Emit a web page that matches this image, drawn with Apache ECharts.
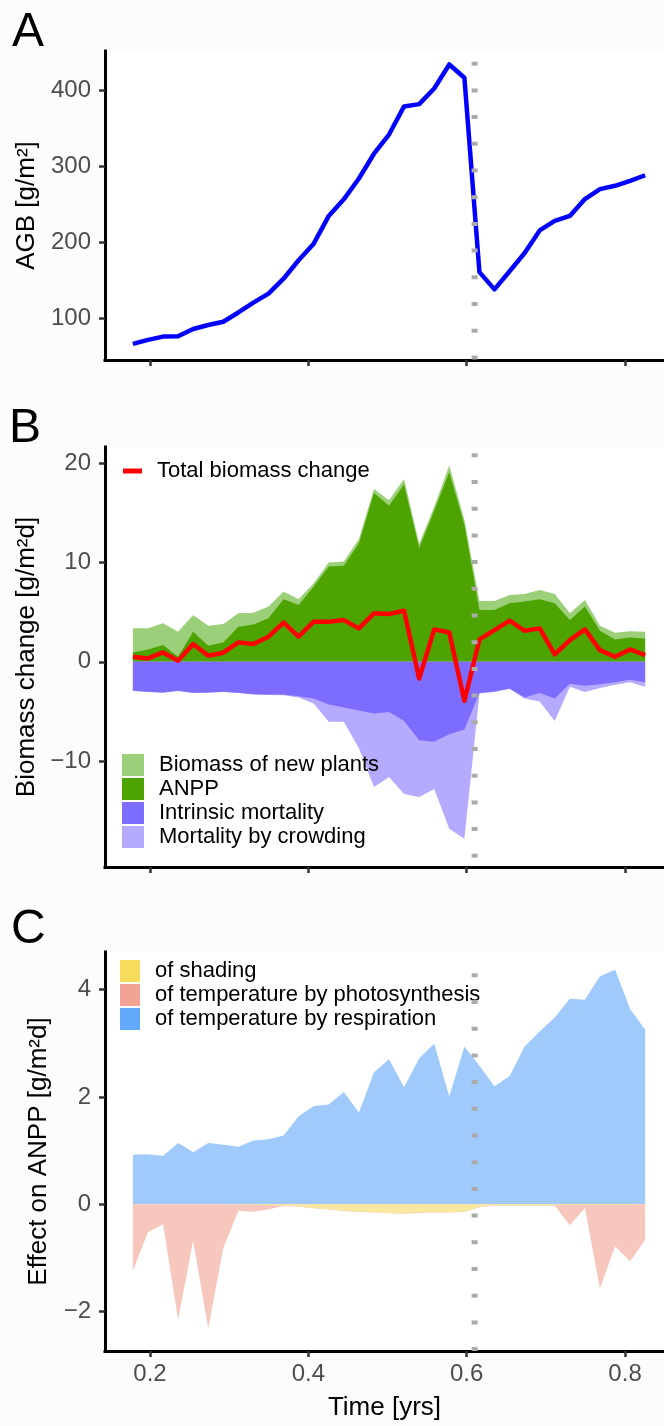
<!DOCTYPE html>
<html>
<head>
<meta charset="utf-8">
<script src="https://cdn.jsdelivr.net/npm/echarts@6/dist/echarts.min.js"></script>
<style>
  html, body { margin: 0; padding: 0; background: #fcfcfc; }
  #chart { width: 664px; height: 1426px; }
</style>
</head>
<body>
<div id="chart"></div>
<script>
// Weekly sampling times [yrs]
const times = [0.1784, 0.1974, 0.2165, 0.2355, 0.2545, 0.2736, 0.2926, 0.3116, 0.3306, 0.3497,
  0.3687, 0.3877, 0.4068, 0.4258, 0.4448, 0.4639, 0.4829, 0.5019, 0.5209, 0.5400,
  0.5590, 0.5780, 0.5971, 0.6161, 0.6351, 0.6542, 0.6732, 0.6922, 0.7112, 0.7303,
  0.7493, 0.7683, 0.7874, 0.8064, 0.8254];

// Event marker (dotted vertical line)
const eventTime = 0.61;

// Panel A: above-ground biomass [g/m²]
const agb = [66.4, 71.6, 76.0, 76.4, 86.0, 91.2, 95.5, 107.7, 120.7, 132.5,
  152.1, 176.4, 198.2, 234.7, 256.5, 283.9, 316.5, 341.7, 378.7, 381.7,
  402.2, 433.9, 416.5, 160.8, 138.1, 162.0, 186.0, 215.6, 228.2, 234.7,
  256.9, 270.0, 274.3, 280.8, 288.2];

// Panel B: components of biomass change [g/m²d]
const anpp = [0.94, 1.24, 1.68, 0.50, 3.03, 1.61, 1.95, 3.53, 3.76, 4.37,
  6.29, 5.71, 7.56, 9.58, 9.65, 11.93, 16.97, 15.70, 17.82, 11.43,
  15.20, 19.06, 13.78, 5.21, 5.21, 5.88, 6.05, 6.29, 5.88, 4.20,
  5.55, 3.13, 2.25, 2.45, 2.35];
const newPlants = [2.42, 2.12, 2.19, 2.53, 1.68, 2.02, 1.85, 1.34, 1.18, 1.18,
  0.77, 0.58, 0.34, 0.40, 0.43, 0.41, 0.41, 0.54, 0.57, 0.45,
  0.40, 0.67, 0.50, 0.91, 0.91, 0.84, 0.77, 0.94, 0.94, 0.67,
  0.67, 0.50, 0.67, 0.61, 0.68];
const intrinsicMort = [-2.92, -3.02, -3.09, -2.92, -3.12, -3.09, -3.02, -3.12, -3.26, -3.29,
  -3.29, -3.46, -3.69, -4.30, -4.60, -4.90, -5.20, -5.05, -5.95, -7.90,
  -8.05, -7.30, -6.80, -3.15, -3.00, -2.70, -3.60, -3.15, -3.70, -2.20,
  -2.40, -2.25, -2.05, -1.82, -2.05];
const crowdingMort = [-0.03, -0.03, -0.03, -0.03, -0.03, -0.03, -0.03, -0.03, -0.04, -0.06,
  -0.07, -0.14, -0.51, -1.74, -1.44, -3.80, -7.40, -6.55, -7.35, -5.70,
  -4.75, -9.50, -11.00, -0.05, -0.05, -0.05, -0.10, -0.85, -2.25, -0.30,
  -0.65, -0.40, -0.25, -0.23, -0.45];
const totalChange = [0.50, 0.34, 0.94, 0.10, 1.78, 0.60, 0.91, 1.95, 1.78, 2.52,
  3.93, 2.52, 4.03, 4.03, 4.19, 3.36, 4.87, 4.80, 5.13, -1.68,
  3.26, 2.95, -3.93, 2.25, 3.19, 4.13, 3.12, 3.36, 0.74, 2.18,
  3.26, 1.17, 0.50, 1.24, 0.67];

// Panel C: effects on ANPP [g/m²d]
const shadingEffect = [-0.005, -0.005, -0.005, -0.005, -0.005, -0.005, -0.005, -0.01, -0.01, -0.02,
  -0.025, -0.04, -0.07, -0.09, -0.12, -0.14, -0.15, -0.16, -0.17, -0.155,
  -0.15, -0.15, -0.14, -0.05, -0.02, -0.02, -0.02, -0.02, -0.015, -0.015,
  -0.015, -0.015, -0.015, -0.015, -0.015];
const photoEffect = [-1.235, -0.515, -0.365, -2.145, -0.675, -2.305, -0.815, -0.11, -0.13, -0.07,
  -0.005, -0.005, -0.005, -0.005, -0.005, -0.005, -0.005, -0.005, -0.005, -0.005,
  -0.005, -0.005, -0.005, -0.005, -0.005, -0.005, -0.005, -0.005, -0.01, -0.375,
  -0.055, -1.555, -0.765, -1.045, -0.645];
const respEffect = [0.925, 0.93, 0.90, 1.14, 0.97, 1.14, 1.11, 1.07, 1.19, 1.21,
  1.28, 1.64, 1.83, 1.86, 2.09, 1.71, 2.46, 2.70, 2.18, 2.72,
  2.99, 2.01, 2.94, 2.58, 2.20, 2.39, 2.94, 3.22, 3.48, 3.83,
  3.81, 4.25, 4.37, 3.64, 3.25];

// Tick labels
const xTicks = [0.2, 0.4, 0.6, 0.8];
const yTicksA = [100, 200, 300, 400];
const yTicksB = [-10, 0, 10, 20];
const yTicksC = [-2, 0, 2, 4];

// Axis ranges
const xRange = [0.1432, 0.8492];
const yRangeA = [45.2, 451.6];
const yRangeB = [-20.64, 21.6];
const yRangeC = [-2.733, 4.70];

const FONT = '"Liberation Sans", Arial, Helvetica, sans-serif';
const pairs = arr => times.map((t, i) => [t, arr[i]]);
// Layered totals: each band is drawn from zero to the running sum, the inner band painted over it
const cumulate = (a, b) => a.map((v, i) => v + b[i]);
const minusFmt = v => (v < 0 ? '\u2212' + Math.abs(v) : String(v));

const grids = [
  { left: 105, right: 0, top: 51, height: 309 },
  { left: 105, right: 0, top: 447, height: 420 },
  { left: 105, right: 0, top: 952, height: 399 }
].map(g => Object.assign({ show: true, backgroundColor: '#ffffff', borderWidth: 0, containLabel: false }, g));

function xAxis(i) {
  const withLabels = i === 2;
  return {
    type: 'value', gridIndex: i, min: xRange[0], max: xRange[1],
    name: withLabels ? 'Time [yrs]' : '',
    nameLocation: 'middle', nameGap: 44,
    nameTextStyle: { color: '#000', fontSize: 26, fontFamily: FONT },
    axisLine: { show: true, onZero: false, lineStyle: { color: '#000', width: 3, cap: 'square' } },
    axisTick: { show: true, length: 6, customValues: xTicks, lineStyle: { color: '#333', width: 2.5 } },
    axisLabel: { show: withLabels, customValues: xTicks, color: '#4d4d4d', fontSize: 24, fontFamily: FONT, margin: 11 },
    splitLine: { show: false }
  };
}

function yAxis(i, range, ticks, name, gap) {
  return {
    type: 'value', gridIndex: i, min: range[0], max: range[1],
    name: name, nameLocation: 'middle', nameGap: gap,
    nameTextStyle: { color: '#000', fontSize: 26, fontFamily: FONT },
    axisLine: { show: true, onZero: false, lineStyle: { color: '#000', width: 3, cap: 'square' } },
    axisTick: { show: true, length: 6, customValues: ticks, lineStyle: { color: '#333', width: 2.5 } },
    axisLabel: { show: true, customValues: ticks, color: '#4d4d4d', fontSize: 24, fontFamily: FONT, margin: 14, formatter: minusFmt },
    splitLine: { show: false }
  };
}

function areaSeries(name, arr, panel, fill) {
  return {
    name: name, type: 'line', xAxisIndex: panel, yAxisIndex: panel,
    data: pairs(arr), symbol: 'none', showSymbol: false, silent: true,
    lineStyle: { width: 0 }, itemStyle: { color: fill },
    areaStyle: { color: fill, opacity: 1, origin: 0 }
  };
}

function eventLine(panel, range, offset) {
  return {
    type: 'line', xAxisIndex: panel, yAxisIndex: panel, silent: true,
    data: [[eventTime, range[1]], [eventTime, range[0]]],
    symbol: 'none', showSymbol: false, z: 10,
    lineStyle: { color: '#aaaaaa', width: 6, type: [4, 22.7], dashOffset: offset, cap: 'butt' }
  };
}

const legendText = { color: '#000', fontSize: 22, fontFamily: FONT, lineHeight: 22, padding: [0, 0, 0, 10] };

const option = {
  animation: false,
  backgroundColor: '#fcfcfc',
  grid: grids,
  xAxis: [xAxis(0), xAxis(1), xAxis(2)],
  yAxis: [
    yAxis(0, yRangeA, yTicksA, 'AGB [g/m²]', 61),
    yAxis(1, yRangeB, yTicksB, 'Biomass change [g/m²d]', 61),
    yAxis(2, yRangeC, yTicksC, 'Effect on ANPP [g/m²d]', 53)
  ],
  legend: [
    {
      left: 123, top: 460, padding: 0, orient: 'vertical', selectedMode: false,
      icon: 'rect', itemWidth: 19, itemHeight: 5, textStyle: legendText,
      data: [{ name: 'Total biomass change', itemStyle: { color: '#ff0000', borderWidth: 0 } }]
    },
    {
      left: 122, top: 754, padding: 0, orient: 'vertical', selectedMode: false,
      icon: 'rect', itemWidth: 22, itemHeight: 22, itemGap: 2, textStyle: legendText,
      data: [
        { name: 'Biomass of new plants', itemStyle: { color: '#9ccf7a', borderWidth: 0 } },
        { name: 'ANPP', itemStyle: { color: '#4da300', borderWidth: 0 } },
        { name: 'Intrinsic mortality', itemStyle: { color: '#7d6dff', borderWidth: 0 } },
        { name: 'Mortality by crowding', itemStyle: { color: '#b4aaff', borderWidth: 0 } }
      ]
    },
    {
      left: 120, top: 960, padding: 0, orient: 'vertical', selectedMode: false,
      icon: 'rect', itemWidth: 20, itemHeight: 22, itemGap: 2, textStyle: legendText,
      data: [
        { name: 'of shading', itemStyle: { color: '#f5dc5c', borderWidth: 0 } },
        { name: 'of temperature by photosynthesis', itemStyle: { color: '#f2a394', borderWidth: 0 } },
        { name: 'of temperature by respiration', itemStyle: { color: '#62a9fb', borderWidth: 0 } }
      ]
    }
  ],
  graphic: [
    { type: 'text', left: 12, top: 9, style: { text: 'A', font: '48px ' + FONT, fill: '#000' } },
    { type: 'text', left: 9, top: 405, style: { text: 'B', font: '48px ' + FONT, fill: '#000' } },
    { type: 'text', left: 11, top: 906, style: { text: 'C', font: '48px ' + FONT, fill: '#000' } }
  ],
  series: [
    // A
    {
      name: 'AGB', type: 'line', xAxisIndex: 0, yAxisIndex: 0, data: pairs(agb),
      symbol: 'none', showSymbol: false, silent: true,
      lineStyle: { color: '#0000ff', width: 4.5, join: 'round' }
    },
    eventLine(0, yRangeA, 16),
    // B: outer bands first, inner bands on top
    areaSeries('Biomass of new plants', cumulate(anpp, newPlants), 1, '#9ccf7a'),
    areaSeries('ANPP', anpp, 1, '#4da300'),
    areaSeries('Mortality by crowding', cumulate(intrinsicMort, crowdingMort), 1, '#b4aaff'),
    areaSeries('Intrinsic mortality', intrinsicMort, 1, '#7d6dff'),
    {
      name: 'Total biomass change', type: 'line', xAxisIndex: 1, yAxisIndex: 1, data: pairs(totalChange),
      symbol: 'none', showSymbol: false, silent: true, z: 5,
      itemStyle: { color: '#ff0000' },
      lineStyle: { color: '#ff0000', width: 4.5, join: 'round' }
    },
    eventLine(1, yRangeB, 20.4),
    // C
    areaSeries('of temperature by respiration', respEffect, 2, '#a0cafc'),
    areaSeries('of temperature by photosynthesis', cumulate(shadingEffect, photoEffect), 2, '#f7c6bd'),
    areaSeries('of shading', shadingEffect, 2, '#f9e9a0'),
    eventLine(2, yRangeC, 5.4)
  ]
};

const chart = echarts.init(document.getElementById('chart'), null, { renderer: 'canvas' });
chart.setOption(option);
</script>
</body>
</html>
